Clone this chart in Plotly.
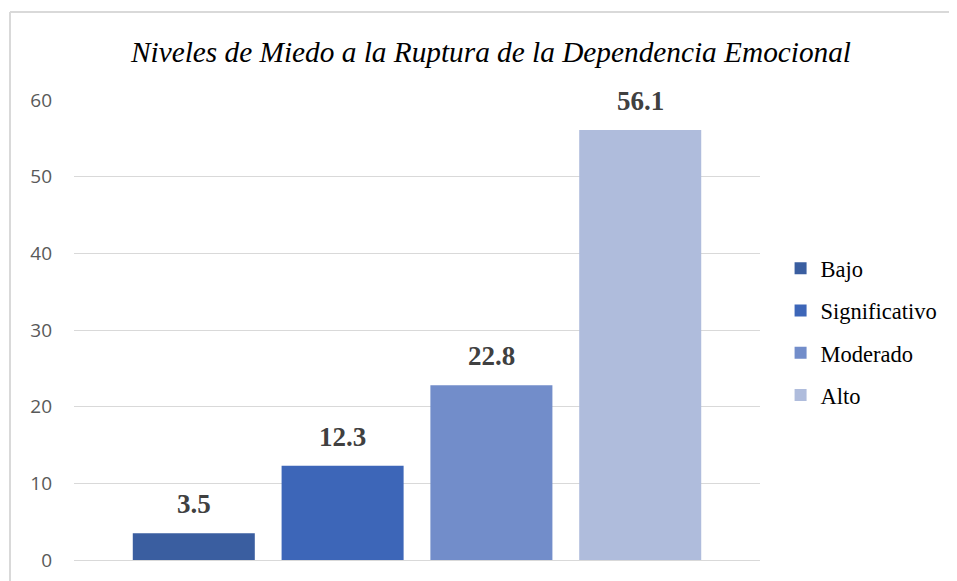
import plotly.graph_objects as go

categories = ["Bajo", "Significativo", "Moderado", "Alto"]
values = [3.5, 12.3, 22.8, 56.1]
colors = ["#3a5ea0", "#3d66b8", "#728dca", "#afbcdc"]
y_ticks = [0, 10, 20, 30, 40, 50, 60]
title_text = "Niveles de Miedo a la Ruptura de la Dependencia Emocional"

W, H = 949, 573  # page body has an 8px margin
fig = go.Figure()
for cat, val, col in zip(categories, values, colors):
    fig.add_trace(go.Bar(
        x=[cat], y=[val], name=cat, marker=dict(color=col, line=dict(width=0)),
        width=0.82, legendgroup=cat,
    ))
    fig.add_annotation(
        x=cat, y=val, text=f"<b>{val}</b>", showarrow=False, yanchor="bottom",
        yshift=12, font=dict(family="Liberation Serif", size=27, color="#404040"),
    )

fig.update_layout(
    width=W, height=H,
    margin=dict(l=66, r=197, t=92, b=21),
    paper_bgcolor="white", plot_bgcolor="white",
    barmode="overlay",
    title=dict(text=title_text, x=(491 - 8) / W, xanchor="center", y=1 - 44 / H, yanchor="middle",
               font=dict(family="Liberation Serif", size=29.3, color="#000000", style="italic")),
    xaxis=dict(categoryorder="array", categoryarray=categories, range=[-0.805, 3.805],
               showticklabels=False, showgrid=False, zeroline=False, showline=False, ticks="",
               automargin=False),
    yaxis=dict(range=[0, 60], tickvals=y_ticks, showgrid=True, gridcolor="#d9d9d9", gridwidth=1,
               zeroline=True, zerolinecolor="#d9d9d9", zerolinewidth=1, showline=False,
               tickfont=dict(family="Open Sans", size=19, color="#595959"), ticklabelstandoff=21,
               automargin=False),
    legend=dict(x=1.03, y=0.68, xanchor="left", yanchor="top", tracegroupgap=10,
                font=dict(family="Liberation Serif", size=22.5, color="#000000"),
                itemwidth=30, bgcolor="rgba(0,0,0,0)"),
    showlegend=True,
)
# outer chart border (left and top edges visible in the frame)
fig.add_shape(type="line", xref="paper", yref="paper", x0=(2 - 66) / 686, x1=(2 - 66) / 686,
              y0=-0.3, y1=(552 - 4) / 460, line=dict(color="#d9d9d9", width=2), layer="below")
fig.add_shape(type="line", xref="paper", yref="paper", x0=(2 - 66) / 686, x1=1.5,
              y0=(552 - 4) / 460, y1=(552 - 4) / 460, line=dict(color="#d9d9d9", width=2), layer="below")

fig.write_html("out.html")
